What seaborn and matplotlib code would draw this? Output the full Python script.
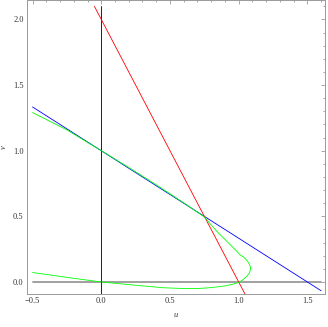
import numpy as np
import pandas as pd
import matplotlib
matplotlib.use("Agg")
import matplotlib.pyplot as plt
import seaborn as sns
from matplotlib.ticker import MultipleLocator

# ---------------------------------------
# Data
# ---------------------------------------
blue_u = [-0.5, 1.6]
blue_v = [1.333, -0.067]

red_u = [-0.05, 1.05]
red_v = [2.1, -0.1]

black_u = [0.0, 0.0]
black_v = [-0.1, 2.1]

axis_u = [-0.5, 1.6]
axis_v = [0.0, 0.0]

green_u = [-0.5, -0.25, 0.0, 0.25, 0.45, 0.6, 0.7, 0.8, 0.9, 0.95, 0.98, 1.0,
           1.025, 1.045, 1.065, 1.078, 1.085, 1.086, 1.08, 1.07, 1.055, 1.035, 1.01,
           0.985, 0.96, 0.925, 0.89, 0.855, 0.82, 0.785, 0.75, 0.6, 0.4, 0.2, 0.0,
           -0.25, -0.5]
green_v = [0.072, 0.035, 0.0, -0.025, -0.044, -0.050, -0.050, -0.043, -0.030, -0.019,
           -0.010, -0.003, 0.012, 0.03, 0.05, 0.07, 0.09, 0.11, 0.13, 0.15, 0.17, 0.19,
           0.207, 0.235, 0.262, 0.298, 0.335, 0.37, 0.41, 0.452, 0.495, 0.603, 0.740,
           0.872, 1.0, 1.158, 1.29]

# ---------------------------------------
# Figure
# ---------------------------------------
sns.set_style("white")
plt.rcParams["font.family"] = ["Liberation Serif", "DejaVu Serif"]

fig = plt.figure(figsize=(3.28, 3.27), dpi=100)
ax = fig.add_axes([0.0808, 0.100, 0.910, 0.8985])

def draw(u, v, color, lw):
    df = pd.DataFrame({"u": u, "v": v})
    sns.lineplot(data=df, x="u", y="v", color=color, lw=lw, sort=False,
                 estimator=None, ax=ax)

draw(axis_u, axis_v, "#999999", 1.3)
draw(black_u, black_v, "black", 0.6)
draw(blue_u, blue_v, "blue", 0.6)
draw(red_u, red_v, "red", 0.6)
draw(green_u, green_v, "#00ff00", 0.6)

ax.set_xlim(-0.544, 1.628)
ax.set_ylim(-0.094, 2.144)

ax.xaxis.set_major_locator(MultipleLocator(0.5))
ax.xaxis.set_minor_locator(MultipleLocator(0.1))
ax.yaxis.set_major_locator(MultipleLocator(0.5))
ax.yaxis.set_minor_locator(MultipleLocator(0.1))
ax.xaxis.set_major_formatter(lambda x, p: f"{x:.1f}".replace("-", "\u2212"))
ax.yaxis.set_major_formatter(lambda x, p: f"{x:.1f}".replace("-", "\u2212"))

ax.tick_params(which="both", direction="in", top=True, right=True,
               color="#999999", width=0.6, labelsize=6, labelcolor="#333333", pad=2)
ax.tick_params(which="major", length=3)
ax.tick_params(which="minor", length=1.6)

for s in ax.spines.values():
    s.set_color("#999999")
    s.set_linewidth(0.7)

ax.set_xlabel("u", fontsize=6, style="italic", color="#333333", labelpad=4)
ax.set_ylabel("v", fontsize=6, style="italic", color="#333333")
ax.yaxis.set_label_coords(-0.062, 0.5)

fig.savefig("out.png", dpi=100)
